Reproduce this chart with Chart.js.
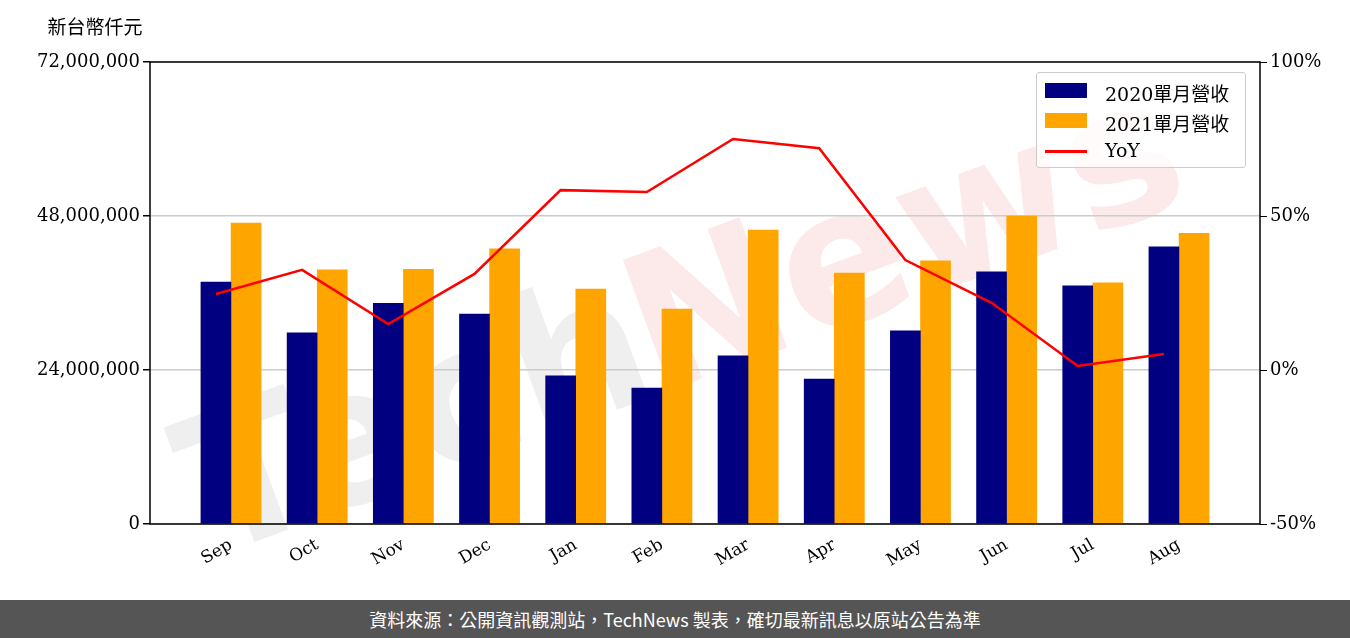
<!DOCTYPE html>
<html><head><meta charset="utf-8">
<script src="https://cdn.jsdelivr.net/npm/chart.js@4"></script>
<style>
body{margin:0;width:1350px;height:638px;overflow:hidden;background:#fff;font-family:"DejaVu Serif",serif}
#wrap{position:relative;width:1350px;height:600px}
#foot{height:38px;background:#555;color:#fff;font:18px "Noto Sans CJK TC",sans-serif;text-align:center;line-height:38px}
#legend{position:absolute;left:1036px;top:72px;width:208px;height:94px;border:1px solid #ccc;border-radius:3px;background:rgba(255,255,255,.8);font:19px "DejaVu Serif","Noto Sans CJK TC",serif}
#legend div{position:absolute;left:68px}
#legend span{position:absolute;left:-60px;width:42px}
</style></head><body>
<div id="wrap"><canvas id="c" width="1350" height="600"></canvas>
<div id="legend">
<div style="top:6px"><span style="top:4px;height:15px;background:#000080"></span>2020單月營收</div>
<div style="top:36px"><span style="top:4px;height:15px;background:#ffa500"></span>2021單月營收</div>
<div style="top:66px"><span style="top:11px;height:3px;background:#f00"></span>YoY</div>
</div></div>
<div id="foot">資料來源：公開資訊觀測站，TechNews 製表，確切最新訊息以原站公告為準</div>
<script>
const months = ["Sep","Oct","Nov","Dec","Jan","Feb","Mar","Apr","May","Jun","Jul","Aug"];
const rev2020 = [37.7,29.8,34.4,32.7,23.1,21.2,26.2,22.6,30.1,39.3,37.1,43.2];
const rev2021 = [46.9,39.6,39.7,42.9,36.6,33.5,45.8,39.1,41.0,48.0,37.6,45.3];
const yoy = [24.7,32.5,14.9,31.2,58.4,57.8,75.0,72.0,35.7,21.8,1.3,5.2];
const leftTicks = [0,24000000,48000000,72000000];
const rightTicks = [-50,0,50,100];

const f = "'DejaVu Serif', serif";
const frame = {
  id:'frame',
  beforeDraw(ch){
    const c=ch.ctx;
    c.save();c.font="19px 'Noto Sans CJK TC'";c.fillStyle='#000';c.textAlign='center';
    c.fillText('新台幣仟元',95,34);
    c.translate(660,330);c.rotate(-0.35);
    c.font="bold 190px 'DejaVu Sans'";c.textAlign='center';
    c.fillStyle='rgba(180,180,180,0.22)';c.fillText('Tech',-260,60);
    c.fillStyle='rgba(240,150,150,0.2)';c.fillText('News',260,60);
    c.restore();
  },
  afterDraw(ch){
    const a=ch.chartArea,c=ch.ctx;
    c.save();c.strokeStyle='#000';c.lineWidth=1.5;c.strokeRect(a.left,a.top,a.right-a.left,a.bottom-a.top);c.restore();
  }
};
new Chart(document.getElementById('c'),{
  type:'bar',
  data:{datasets:[
    {label:'2020單月營收',data:rev2020.map((v,i)=>({x:i-0.175,y:v*1e6})),backgroundColor:'#000080',barThickness:30,grouped:false,order:2},
    {label:'2021單月營收',data:rev2021.map((v,i)=>({x:i+0.175,y:v*1e6})),backgroundColor:'#ffa500',barThickness:30,grouped:false,order:2},
    {type:'line',label:'YoY',data:yoy.map((v,i)=>({x:i-0.175,y:v})),borderColor:'#f00',borderWidth:2.5,pointRadius:0,yAxisID:'y2',order:1}
  ]},
  options:{
    responsive:false,animation:false,
    layout:{padding:{top:62,left:0,right:0,bottom:0}},
    plugins:{legend:{display:false},tooltip:{enabled:false}},
    scales:{
      x:{type:'linear',min:-0.94,max:11.94,offset:false,
        afterBuildTicks:s=>{s.ticks=months.map((m,i)=>({value:i}));},
        afterFit:s=>{s.height=76;},
        grid:{display:false},border:{display:false},
        ticks:{maxRotation:30,minRotation:30,font:{family:f,size:17},color:'#000',callback:v=>months[v]}},
      y:{min:0,max:72000000,
        afterBuildTicks:s=>{s.ticks=leftTicks.map(v=>({value:v}));},
        afterFit:s=>{s.width=150;},
        grid:{color:'#ccc',lineWidth:1.5,drawTicks:true,tickColor:'#000',tickLength:7},border:{display:false},
        ticks:{font:{family:f,size:18},color:'#000',callback:v=>v.toLocaleString('en-US')}},
      y2:{position:'right',min:-50,max:100,
        afterBuildTicks:s=>{s.ticks=rightTicks.map(v=>({value:v}));},
        afterFit:s=>{s.width=90;},
        grid:{drawOnChartArea:false,tickColor:'#000',tickLength:7},border:{display:false},
        ticks:{font:{family:f,size:18},color:'#000',callback:v=>v+'%'}}
    }
  },
  plugins:[frame]
});
</script></body></html>
